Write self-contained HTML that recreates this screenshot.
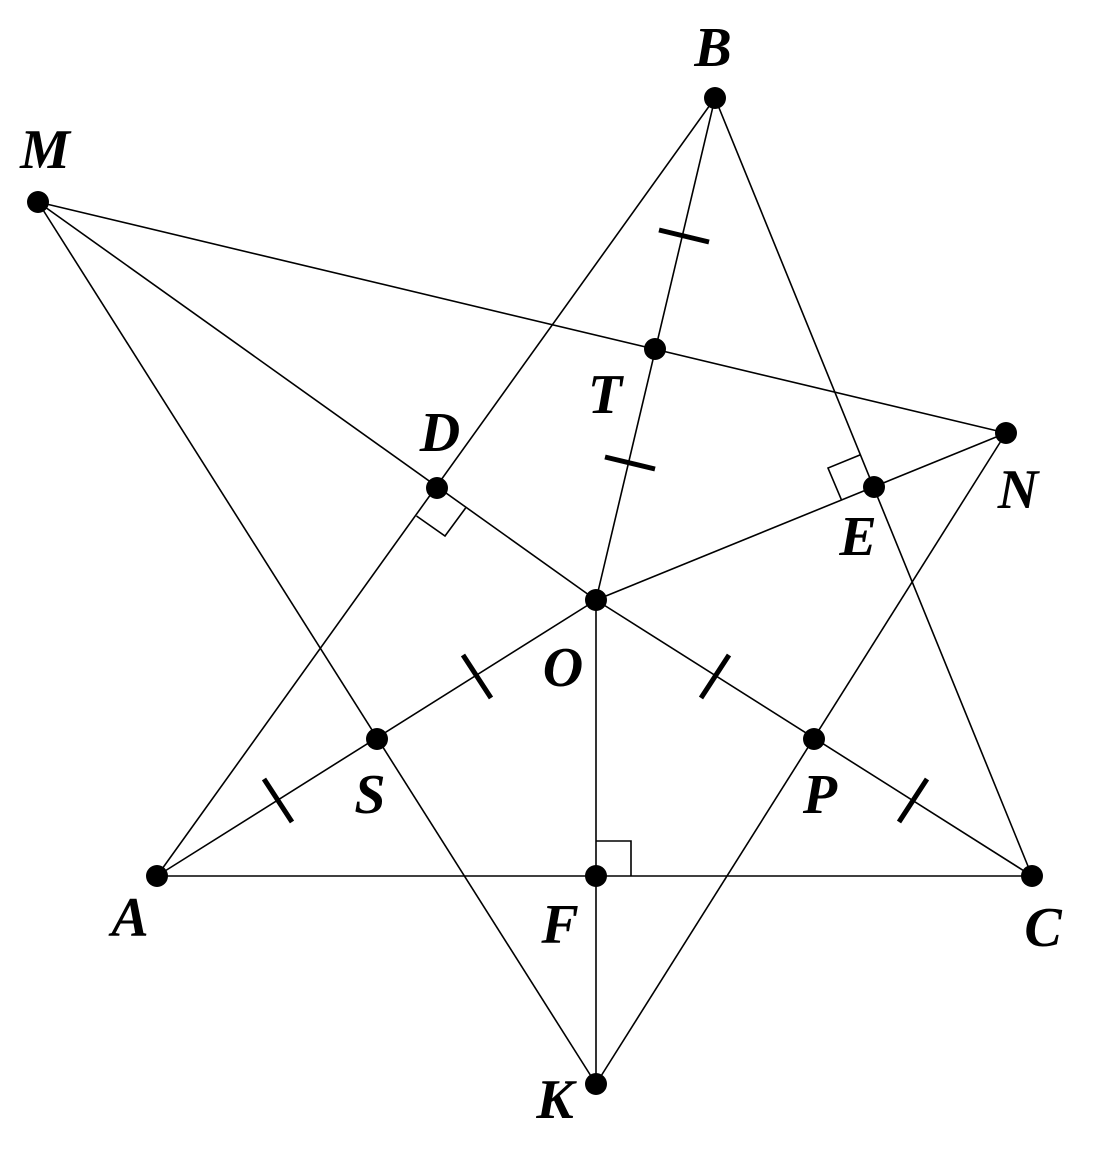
<!DOCTYPE html>
<html><head><meta charset="utf-8"><style>html,body{margin:0;padding:0;background:#fff}
.lb{font-family:"Liberation Serif","Times New Roman",serif;font-weight:bold;font-style:italic;font-size:56px}</style></head>
<body>
<svg width="1093" height="1149" viewBox="0 0 1093 1149" xmlns="http://www.w3.org/2000/svg">
<g stroke="#000" stroke-width="1.6" fill="none">
<line x1="38" y1="202" x2="1006" y2="433"/>
<line x1="38" y1="202" x2="596" y2="600"/>
<line x1="38" y1="202" x2="596" y2="1084"/>
<line x1="715" y1="98" x2="157" y2="876"/>
<line x1="715" y1="98" x2="1032" y2="876"/>
<line x1="715" y1="98" x2="596" y2="600"/>
<line x1="596" y1="600" x2="1006" y2="433"/>
<line x1="596" y1="600" x2="157" y2="876"/>
<line x1="596" y1="600" x2="1032" y2="876"/>
<line x1="596" y1="600" x2="596" y2="1084"/>
<line x1="157" y1="876" x2="1032" y2="876"/>
<line x1="1006" y1="433" x2="596" y2="1084"/>
<polyline points="416.5,516 445,536 465.6,508"/>
<polyline points="860.8,454.6 828,468 841.6,500.2"/>
<polyline points="596,841 631,841 631,876"/>
</g>
<g stroke="#000" stroke-width="5">
<line x1="659" y1="230" x2="709" y2="242"/>
<line x1="605" y1="457" x2="655" y2="469"/>
<line x1="264" y1="779" x2="292" y2="822"/>
<line x1="463" y1="655" x2="491" y2="698"/>
<line x1="729" y1="655" x2="701" y2="698"/>
<line x1="927" y1="779" x2="899" y2="822"/>
</g>
<g fill="#000">
<circle cx="715" cy="98" r="11"/><circle cx="38" cy="202" r="11"/>
<circle cx="655" cy="349" r="11"/><circle cx="1006" cy="433" r="11"/>
<circle cx="437" cy="488" r="11"/><circle cx="874" cy="487" r="11"/>
<circle cx="596" cy="600" r="11"/><circle cx="377" cy="739" r="11"/>
<circle cx="814" cy="739" r="11"/><circle cx="157" cy="876" r="11"/>
<circle cx="596" cy="876" r="11"/><circle cx="1032" cy="876" r="11"/>
<circle cx="596" cy="1084" r="11"/>
</g>
<g class="lb" text-anchor="middle" dominant-baseline="central" fill="#000">
<text x="713" y="48">B</text>
<text x="45" y="150">M</text>
<text x="605" y="395">T</text>
<text x="440" y="433">D</text>
<text x="1018" y="490">N</text>
<text x="858" y="537">E</text>
<text x="563" y="668">O</text>
<text x="370" y="795">S</text>
<text x="820" y="795">P</text>
<text x="130" y="918">A</text>
<text x="560" y="925">F</text>
<text x="1043" y="928">C</text>
<text x="555" y="1100">K</text>
</g>
</svg>
</body></html>
